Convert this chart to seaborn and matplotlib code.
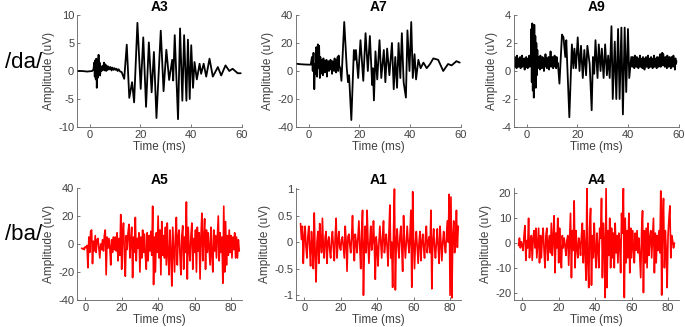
import numpy as np
import pandas as pd
import matplotlib
matplotlib.use('Agg')
import matplotlib.pyplot as plt
import seaborn as sns
from matplotlib.ticker import FuncFormatter

# ---------------- /da/ responses (black), time in ms, amplitude in uV ----------------
# A3
a3_t = [-5, -3, -1, 1, 1.5, 1.8, 2.0, 2.2, 2.4, 2.6,
        2.8, 3.0, 3.2, 3.5, 3.7, 3.9, 4.1, 4.4, 4.7, 5.0,
        5.3, 5.6, 5.9, 6.2, 6.5, 6.8, 7.1, 7.4, 7.8, 8.2,
        8.6, 9.0, 9.4, 9.8, 10.2, 10.6, 11.0, 11.4, 12.0, 12.6,
        13.6, 14.6, 15.6, 16.7, 17.5, 18.8, 20.1, 21.1, 22.2, 23.3,
        24.4, 25.3, 26.3, 28.0, 29.1, 30.2, 31.3, 32.5, 32.9, 33.5,
        34.8, 35.6, 36.5, 37.2, 38.1, 38.7, 39.4, 40.0, 40.7, 41.3,
        42.2, 43.3, 43.9, 44.9, 45.9, 47.2, 48.5, 50.5, 51.8, 53.5,
        55.0, 56.3, 58.3, 59.5]
a3_v = [0.0, 0.0, -0.1, 0.0, 0.3, 1.5, -1.0, 1.9, -1.5, 2.2,
        -3.0, 1.0, -1.2, 2.9, -0.5, 1.5, -0.8, 0.8, 0.0, 0.9,
        0.2, 1.5, 0.1, 1.2, 0.0, 0.9, 0.2, 0.8, 0.3, 0.7,
        0.1, 0.6, 0.2, 0.5, 0.2, 0.4, 0.0, 0.3, -0.1, -0.2,
        -1.4, 4.7, -4.8, -2.0, -5.6, 8.6, -3.2, 6.0, -6.4, 5.1,
        -3.8, 3.4, -8.4, 7.2, -3.6, 3.8, -1.6, 2.0, -1.7, 6.4,
        -8.6, 7.6, -5.3, 6.4, -5.3, 5.6, -5.0, 4.6, -3.0, 1.6,
        -1.5, 1.3, -0.5, 1.3, -1.0, 2.2, -1.0, 0.7, -0.8, 1.0,
        0.0, 0.4, -0.4, -0.4]

# A7
a7_pre_t = [-5, -3, -1, 0.8, 1.3, 1.6, 1.9, 2.2, 2.5, 2.8,
            3.0, 3.3, 3.6, 3.9, 4.1, 4.4]
a7_pre_v = [5.2, 4.8, 4.6, 4.5, 10, 0, 13, -13, 5, -2,
            17, -4, 19, 2, 18, -5]
a7_noise_span = (4.6, 12.0)
a7_noise = [10, -2, 8, 0, 6, -3, 9, 1, 7, -1,
            5, 2, 8, -4, 6, 3, 7, 0, 5, 4,
            8, 1, 6, -2, 7, 3, 5, 0, 9, 2,
            6, -1, 8, 3, 10, 0, 11, 4]
a7_post_t = [12.4, 12.9, 14.0, 15.0, 15.5, 15.9, 16.8, 17.8, 18.2, 18.6,
             19.5, 20.4, 21.5, 22.4, 23.3, 24.1, 25.0, 25.3, 25.7, 26.3,
             27.0, 27.9, 28.6, 29.6, 30.2, 30.9, 31.8, 32.8, 33.5, 34.1,
             34.8, 35.4, 36.1, 36.7, 37.4, 38.3, 38.9, 39.7, 40.4, 41.0,
             41.7, 42.3, 43.2, 44.1, 45.2, 46.5, 47.8, 49.1, 51.0, 53.0,
             54.9, 56.3, 58.2, 59.5]
a7_post_v = [2, -7, 35, 2, -8, -3, -35, 15, 8, 15,
             -5, 22, -7, 27, 0, 25, -10, 2, -21, 14,
             -6, 22, -5, 15, -8, 16, -3, 20, -13, 10,
             -12, 20, -5, 27, -8, -19, 29, 0, 35, -5,
             12, -6, 8, 2, 6, 2, 5, 9, 8, 0,
             5, 4, 7, 6]

# A9
a9_noise1_span = (-5.0, 1.6)
a9_noise1 = [0.9, 0.3, 1.0, 0.4, 0.8, 0.2, 1.1, 0.5, 0.7, 0.3,
             0.9, 0.4, 1.0, 0.2, 0.8, 0.5, 1.1, 0.3, 0.7, 0.4,
             0.9, 0.1, 0.8, 0.5, 1.0, 0.3, 0.6, 0.2, 0.9, 0.4,
             1.1, 0.3, 0.8, 0.5]
a9_burst_t = [1.8, 2.0, 2.2, 2.4, 2.6, 2.8, 3.0, 3.2, 3.4, 3.6, 3.8, 4.0, 4.2]
a9_burst_v = [3.0, -0.8, 3.4, -1.4, 2.8, -1.9, 3.3, -0.5, 2.5, -1.2, 2.0, -0.3, 1.5]
a9_noise2_span = (4.4, 12.4)
a9_noise2 = [0.2, 1.0, 0.3, 0.9, 0.1, 1.1, 0.4, 0.8, 0.2, 1.0,
             0.5, 0.9, 0.0, 0.8, 0.3, 1.2, 0.4, 0.9, 0.2, 0.7,
             0.5, 1.0, 0.1, 0.9, 0.4, 1.4, 0.3, 0.8, 0.5, 1.0,
             0.2, 0.9, 0.6, 1.1, 0.3, 0.7, 0.2, 1.0, 0.4, 0.6,
             0.3]
a9_mid_t = [12.9, 13.9, 14.5, 15.2, 15.6, 16.2, 16.8, 17.3, 17.8, 18.4,
            18.8, 19.4, 20.1, 20.8, 21.4, 22.1, 22.7, 23.4, 23.9, 24.8,
            25.6, 26.1, 26.6, 27.1, 27.9, 28.4, 29.1, 29.6, 30.3, 30.9,
            31.6, 32.1, 32.7, 33.4, 33.9, 34.7, 35.3, 36.0, 36.6, 37.3,
            37.9, 38.6, 39.2, 39.9, 40.4, 41.2]
a9_mid_v = [-0.9, 2.6, 2.4, 1.0, 2.2, -0.5, -3.3, -0.8, 1.9, 0.2,
            1.6, 0.2, 2.4, 0.0, 1.8, -0.5, 1.5, -0.3, 1.8, 0.5,
            -2.8, 1.0, -0.2, 2.2, -0.5, 1.9, 0.0, 1.6, -0.5, 1.9,
            -0.3, 1.1, -0.5, 3.2, -2.0, 2.1, -2.0, 3.0, -2.0, 3.1,
            -3.1, 3.1, -1.5, 3.0, -0.5, 1.0]
a9_noise3_span = (41.6, 59.0)
a9_noise3 = [0.3, 1.0, 0.5, 0.9, 0.2, 1.1, 0.4, 0.8, 0.3, 1.0,
             0.6, 0.9, 0.2, 0.8, 0.5, 1.1, 0.3, 0.9, 0.4, 0.7,
             0.2, 1.0, 0.5, 0.8, 0.1, 0.9, 0.4, 1.0, 0.3, 0.8,
             0.5, 1.1, 0.2, 0.7, 0.4, 0.9, 0.3, 1.0, 0.5, 0.8,
             0.2, 0.9, 0.4, 1.1, 0.3, 0.7, 0.5, 0.9, 0.2, 1.0,
             0.4, 0.8, 0.3, 1.0, 0.5, 1.2, 0.3, 0.9, 0.6, 1.3,
             0.4, 1.2, 0.5, 0.9, 0.3, 1.0, 0.4, 0.8, 0.2, 1.1,
             0.5, 0.9, 0.3, 1.0, 0.4, 0.8, 0.2, 1.0, 0.5, 0.9,
             0.3, 1.1, 0.4, 0.8, 0.1, 0.9, 0.5, 0.7]

# ---------------- /ba/ responses (red), sampled every 0.5 ms ----------------
a5_span = (-2.0, 84.5)
a5_v = [-3, -3.5, -3, -4, -2, -2.5, -1, -17, 5, -6,
        9, 10, -14, 2, -5, 6, -6, 3, 4, -3,
        -10, 0, -4, 3, -5, 6, 10, -22, 5, -3,
        4, -2, -15, 3, -6, 5, -4, 5, -5, 8,
        -12, 4, -8, 21, -18, 6, 15, -8, -23, 6,
        -4, 8, 14, -10, 3, 12, -24, 5, -6, 19,
        -12, 4, -3, 8, -20, 5, -10, 10, -6, 7,
        -8, -18, 8, -12, 6, -5, 9, -8, 27, -29,
        5, -20, 8, -6, 20, -10, 10, -22, 16, -8,
        6, -10, 12, -15, 15, -8, -22, 10, -6, -30,
        12, -5, -20, 6, 19, -15, 5, 10, -8, -22,
        6, 13, -18, 5, -6, 30, -25, 12, -4, -12,
        6, 15, -18, 4, -6, 10, -20, 12, -5, 8,
        -25, 6, 22, -12, 4, 18, -18, 10, -6, 8,
        -4, -15, 12, -8, -20, 10, -5, 6, -10, 5,
        20, -12, 8, -6, 5, -28, 27, -20, 16, -15,
        6, -8, 10, -6, 6, -10, 5, -4, 8, -10,
        5, -10, 3, -5]

a1_span = (-2.0, 84.5)
a1_v = [0.35, 0.05, 0.3, -0.4, 0.1, 0.3, -0.1, -0.3, 0.1, 0.3,
        -0.1, -0.45, 0.2, -0.1, -0.5, 0.55, -0.2, -0.75, 0.0, 0.2,
        -0.4, 0.35, 0.0, -0.2, 0.45, -0.1, -0.3, 0.1, 0.2, -0.4,
        0.0, 0.1, -0.15, -0.3, 0.05, 0.2, -0.1, -0.35, 0.1, 0.45,
        -0.3, 0.0, 0.2, -0.1, -0.15, 0.05, 0.1, -0.1, -0.3, 0.3,
        0.0, -0.55, 0.1, 0.15, -0.05, -0.2, 0.1, 0.5, -0.1, -0.35,
        0.15, 0.0, -0.2, 0.1, 0.4, -0.1, -0.5, 0.2, 0.6, -1.0,
        -0.1, 0.3, -0.2, 0.6, 0.0, -0.4, 0.0, 0.3, -0.15, 0.0,
        0.4, -0.1, -0.7, 0.1, -0.1, -0.45, 0.0, 0.3, 0.0, -0.3,
        0.1, 0.4, -0.2, 0.0, 0.15, -0.1, -0.45, 0.2, 0.7, -0.3,
        0.0, -0.85, 0.2, 1.0, -0.9, 0.0, 0.25, -0.1, -0.3, 0.1,
        0.3, -0.1, -0.55, 0.5, 0.0, -0.3, 0.0, 0.3, 0.0, -0.2,
        0.1, 0.6, -0.85, 0.95, 0.0, -0.5, 0.0, 0.2, -0.1, -0.4,
        0.0, 0.2, -0.35, 0.0, 0.15, -0.1, -0.3, 0.1, 0.3, -0.2,
        0.0, 0.1, -0.2, 0.6, -0.88, 0.0, 0.25, -0.1, -0.3, 0.0,
        0.25, -0.1, -0.4, 0.3, 0.0, -0.35, 0.0, 0.2, -0.05, -0.2,
        0.1, 0.4, 0.0, 0.9, -1.0, 0.85, -1.05, 0.1, 0.4, -0.2,
        0.1, 0.6, -0.1, 0.3]

a4_span = (-2.0, 83.5)
a4_v = [-1, 2, -2, 0.5, -1, -3, 3, 7, -7, 1,
        -2, 10, -6, 1, 3, -7, 2, 5, -2, 6,
        -6, 0, 6, -8, 3, -6, 2, 6, -3, -10,
        3, 6, -7, 0, 3, -4, 8, -5, 2, 11,
        -12, 4, -2, 10, -8, 6, -3, -10, 3, -2,
        2, -1, -5, 1, 3, -9, 2, 12, -14, 5,
        -3, 17, -10, 5, -2, -6, 2, 0, -5, 3,
        8, -8, 5, -3, -15, 22, -8, -18, 6, 14,
        -17, 3, -6, 8, -3, -10, 4, -2, -10, 6,
        2, 18, -14, 8, 0, -22, 22, -18, 5, -5,
        10, -10, 6, -6, 4, -10, 8, -4, 3, -8,
        4, 0, -12, 12, 4, 22, -22, 10, -8, 5,
        -6, 12, -12, 6, -6, 5, -2, -8, 4, -3,
        5, -4, 2, -6, -14, 5, 13, -20, 5, -8,
        6, -10, 8, -5, 2, 5, -6, 2, 10, -12,
        4, -8, 3, -3, 5, -4, 21, -21, 8, 18,
        -10, 5, -3, -18, 3, 10, 15, -6, 3, 1,
        -2, 0]


def build(parts):
    ts, vs = [], []
    for p in parts:
        if len(p) == 2:
            ts.extend(p[0])
            vs.extend(p[1])
        else:
            ts.extend(np.linspace(p[0], p[1], len(p[2])))
            vs.extend(p[2])
    return pd.DataFrame({'t': ts, 'v': vs})


df_a3 = build([(a3_t, a3_v)])
df_a7 = build([(a7_pre_t, a7_pre_v), (*a7_noise_span, a7_noise), (a7_post_t, a7_post_v)])
df_a9 = build([(*a9_noise1_span, a9_noise1), (a9_burst_t, a9_burst_v),
               (*a9_noise2_span, a9_noise2), (a9_mid_t, a9_mid_v),
               (*a9_noise3_span, a9_noise3)])
df_a5 = build([(*a5_span, a5_v)])
df_a1 = build([(*a1_span, a1_v)])
df_a4 = build([(*a4_span, a4_v)])

panels = [
    # name, data, row, col, color, ylim, yticks
    ('A3', df_a3, 0, 0, 'black', (-10, 10), [-10, -5, 0, 5, 10]),
    ('A7', df_a7, 0, 1, 'black', (-40, 40), [-40, -20, 0, 20, 40]),
    ('A9', df_a9, 0, 2, 'black', (-4, 4), [-4, -2, 0, 2, 4]),
    ('A5', df_a5, 1, 0, '#ff0000', (-40, 40), [-40, -20, 0, 20, 40]),
    ('A1', df_a1, 1, 1, '#ff0000', (-1.09, 1.02), [-1, -0.5, 0, 0.5, 1]),
    ('A4', df_a4, 1, 2, '#ff0000', (-23, 22.2), [-20, -10, 0, 10, 20]),
]

sns.set_theme(style='ticks')
plt.rcParams['font.family'] = ['Liberation Sans', 'DejaVu Sans']
plt.rcParams['axes.unicode_minus'] = False

fig = plt.figure(figsize=(6.85, 3.27), dpi=100)
W, H = 685, 327
lefts = [77, 296, 514]
tops = [15, 188]
ax_w, ax_h = 165, 112
txt = '#404040'

for name, df, r, c, color, ylim, yticks in panels:
    ax = fig.add_axes([lefts[c] / W, 1 - (tops[r] + ax_h) / H, ax_w / W, ax_h / H])
    sns.lineplot(data=df, x='t', y='v', ax=ax, color=color,
                 lw=1.3 if r == 0 else 1.2, sort=False, estimator=None)
    if r == 0:
        ax.set_xlim(-5, 60)
        ax.set_xticks([0, 20, 40, 60])
    else:
        ax.set_xlim(-4.5, 86)
        ax.set_xticks([0, 20, 40, 60, 80])
    ax.set_ylim(*ylim)
    ax.set_yticks(yticks)
    ax.yaxis.set_major_formatter(FuncFormatter(lambda x, pos: f'{x:g}'))
    ax.set_xlabel('Time (ms)', fontsize=8.5, color=txt, labelpad=1)
    ax.set_ylabel('Amplitude (uV)', fontsize=8.5, color=txt, labelpad=2)
    ax.set_title(name, fontsize=10, fontweight='bold', color='black', pad=3)
    ax.tick_params(direction='in', length=2.5, width=0.5, labelsize=8,
                   colors=txt, pad=2)
    for s in ['left', 'bottom']:
        ax.spines[s].set_linewidth(0.6)
        ax.spines[s].set_color('#606060')
    sns.despine(ax=ax)

fig.text(24 / W, 1 - 62 / H, '/da/', fontsize=16, ha='center', va='center', color='black')
fig.text(24 / W, 1 - 234 / H, '/ba/', fontsize=16, ha='center', va='center', color='black')

fig.savefig('out.png', dpi=100)
